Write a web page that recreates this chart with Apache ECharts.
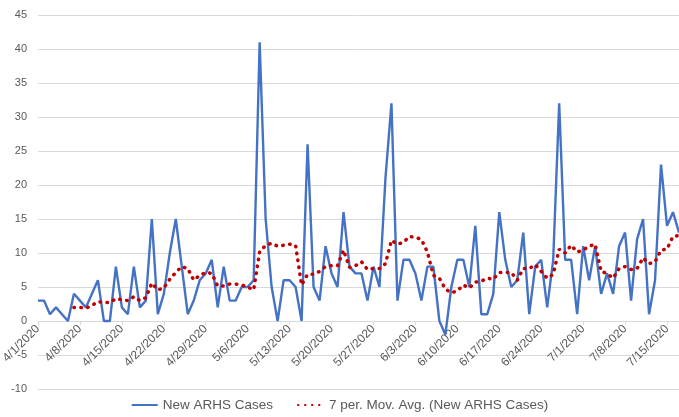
<!DOCTYPE html>
<html>
<head>
<meta charset="utf-8">
<script src="https://cdn.jsdelivr.net/npm/echarts@6/dist/echarts.min.js"></script>
<style>
html,body{margin:0;padding:0;background:#fff;}
#chart{width:679px;height:417px;}
</style>
</head>
<body>
<div id="chart"></div>
<script>
const categories = [
 "4/1/2020","4/2/2020","4/3/2020","4/4/2020","4/5/2020","4/6/2020","4/7/2020","4/8/2020","4/9/2020","4/10/2020",
 "4/11/2020","4/12/2020","4/13/2020","4/14/2020","4/15/2020","4/16/2020","4/17/2020","4/18/2020","4/19/2020","4/20/2020",
 "4/21/2020","4/22/2020","4/23/2020","4/24/2020","4/25/2020","4/26/2020","4/27/2020","4/28/2020","4/29/2020","4/30/2020",
 "5/1/2020","5/2/2020","5/3/2020","5/4/2020","5/5/2020","5/6/2020","5/7/2020","5/8/2020","5/9/2020","5/10/2020",
 "5/11/2020","5/12/2020","5/13/2020","5/14/2020","5/15/2020","5/16/2020","5/17/2020","5/18/2020","5/19/2020","5/20/2020",
 "5/21/2020","5/22/2020","5/23/2020","5/24/2020","5/25/2020","5/26/2020","5/27/2020","5/28/2020","5/29/2020","5/30/2020",
 "5/31/2020","6/1/2020","6/2/2020","6/3/2020","6/4/2020","6/5/2020","6/6/2020","6/7/2020","6/8/2020","6/9/2020",
 "6/10/2020","6/11/2020","6/12/2020","6/13/2020","6/14/2020","6/15/2020","6/16/2020","6/17/2020","6/18/2020","6/19/2020",
 "6/20/2020","6/21/2020","6/22/2020","6/23/2020","6/24/2020","6/25/2020","6/26/2020","6/27/2020","6/28/2020","6/29/2020",
 "6/30/2020","7/1/2020","7/2/2020","7/3/2020","7/4/2020","7/5/2020","7/6/2020","7/7/2020","7/8/2020","7/9/2020",
 "7/10/2020","7/11/2020","7/12/2020","7/13/2020","7/14/2020","7/15/2020","7/16/2020","7/17/2020"
];

const newCases = [
 3,3,1,2,1,0,4,3,2,4,
 6,0,0,8,2,1,8,2,3,15,
 1,4,10,15,8,1,3,6,7,9,
 2,8,3,3,5,5,6,41,15,5,
 0,6,6,5,0,26,5,3,11,7,
 5,16,8,7,7,3,8,5,21,32,
 3,9,9,7,3,8,8,0,-2,5,
 9,9,5,14,1,1,4,16,9,5,
 6,13,1,8,9,2,9,32,9,9,
 1,11,6,11,4,7,4,11,13,3,
 12,15,1,6,23,14,16,13
];

const movAvg = [
 null,null,null,null,null,null,2.0,2.0,1.86,2.29,
 2.86,2.71,2.71,3.29,3.14,3.0,3.57,3.0,3.43,5.57,
 4.57,4.86,6.14,7.14,8.0,7.71,6.0,6.71,7.14,7.0,
 5.14,5.14,5.43,5.43,5.29,5.0,4.57,10.14,11.14,11.43,
 11.0,11.14,11.29,11.14,5.29,6.86,6.86,7.29,8.0,8.14,
 8.14,10.43,7.86,8.14,8.71,7.57,7.71,7.71,8.43,11.86,
 11.29,11.57,12.43,12.29,12.0,10.14,6.71,6.29,4.71,4.14,
 4.43,5.29,4.86,5.71,5.86,6.29,6.14,7.14,7.14,7.14,
 6.0,7.71,7.71,8.29,7.29,6.29,6.86,10.57,10.0,11.14,
 10.14,10.43,11.0,11.29,7.29,7.0,6.29,7.71,8.0,7.57,
 7.71,9.29,8.43,8.71,10.43,10.57,12.43,12.57
];

const seriesNames = ["New ARHS Cases", "7 per. Mov. Avg. (New ARHS Cases)"];
const yTicks = {min: -10, max: 45, step: 5};

const chart = echarts.init(document.getElementById('chart'), null, {renderer: 'canvas'});
const textColor = '#595959';
const gridColor = '#D9D9D9';
const fontFamily = '"Liberation Sans Narrow", "Liberation Sans", Arial, sans-serif';

chart.setOption({
  animation: false,
  backgroundColor: '#ffffff',
  grid: {left: 38, right: 0, top: 15, bottom: 28, containLabel: false, outerBoundsMode: 'none'},
  legend: {
    bottom: 0,
    left: 'center',
    itemGap: 24,
    itemWidth: 26,
    itemHeight: 8,
    itemStyle: {opacity: 0},
    textStyle: {color: textColor, fontSize: 13.5, fontFamily: fontFamily},
    data: seriesNames
  },
  xAxis: {
    type: 'category',
    data: categories,
    boundaryGap: false,
    offset: -68,
    axisLine: {show: true, onZero: false, lineStyle: {color: gridColor, width: 1}},
    axisTick: {show: true, interval: 6, length: 4, lineStyle: {color: gridColor}},
    axisLabel: {interval: 6, rotate: 45, color: textColor, fontSize: 12, fontFamily: fontFamily, margin: 6},
    splitLine: {show: false}
  },
  yAxis: {
    type: 'value',
    min: yTicks.min,
    max: yTicks.max,
    interval: yTicks.step,
    axisLine: {show: false},
    axisTick: {show: false},
    axisLabel: {color: textColor, fontSize: 11, fontFamily: fontFamily, margin: 11},
    splitLine: {show: true, lineStyle: {color: gridColor, width: 1}}
  },
  series: [
    {
      name: seriesNames[0],
      type: 'line',
      data: newCases,
      symbol: 'none',
      lineStyle: {color: '#4472C4', width: 2.4},
      itemStyle: {color: '#4472C4'},
      z: 2
    },
    {
      name: seriesNames[1],
      type: 'line',
      data: movAvg,
      symbol: 'none',
      connectNulls: false,
      lineStyle: {color: '#C00000', width: 3.5, type: [0.5, 6.5], cap: 'round'},
      itemStyle: {color: '#C00000'},
      z: 3
    }
  ]
});
</script>
</body>
</html>
